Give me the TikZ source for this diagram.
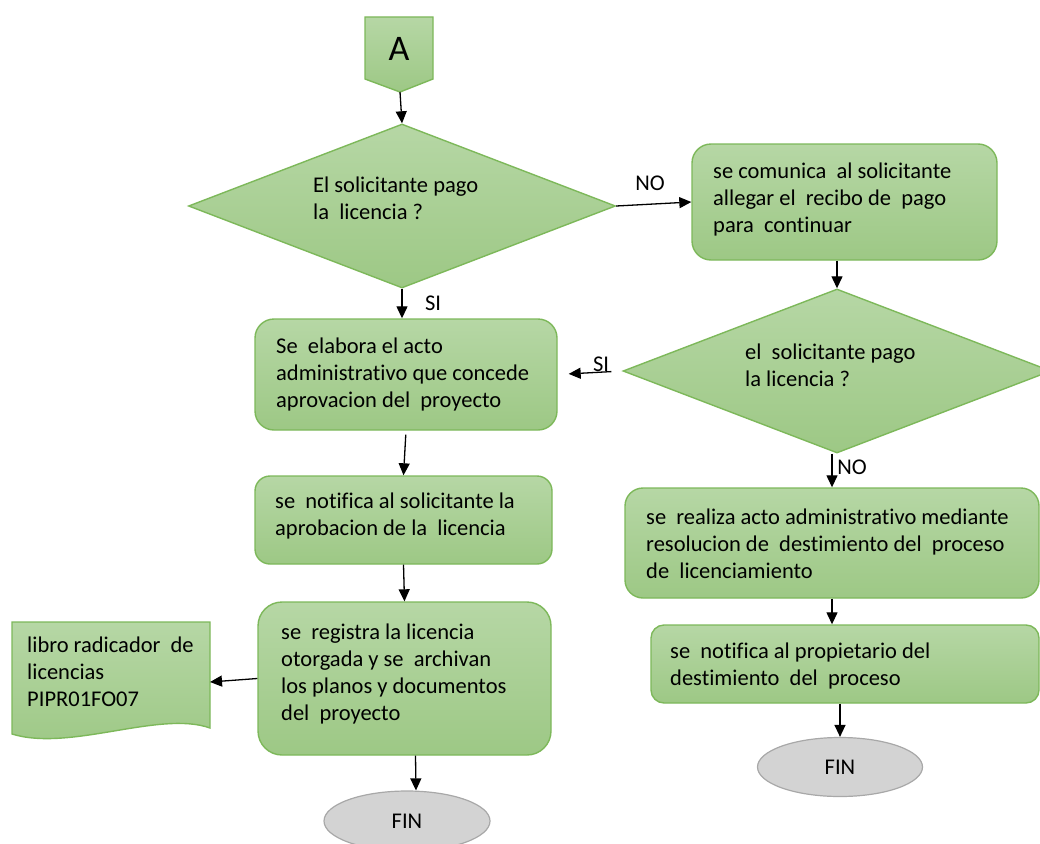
\documentclass[tikz,border=0pt]{standalone}
\usepackage{fontspec}
\setmainfont{Carlito}[Ligatures=NoCommon]
\usetikzlibrary{shapes.geometric,arrows.meta}

\definecolor{gtop}{HTML}{B6D7A5}
\definecolor{gbot}{HTML}{9DC885}
\definecolor{gline}{HTML}{7DB85A}
\definecolor{finfill}{HTML}{D3D3D3}
\definecolor{finline}{HTML}{A8A8A8}

% several lines of left-aligned text whose baseline is that of the first line
\newcommand{\txtlines}[1]{\begin{tabular}[t]{@{}l@{}}#1\end{tabular}}

\begin{document}
\begin{tikzpicture}[x=1pt,y=-1pt,
  font=\fontsize{22.5}{27}\selectfont,
  green/.style={draw=gline, line width=1.4pt, top color=gtop, bottom color=gbot},
  procbox/.style={green, rectangle, inner sep=0pt},
  decision/.style={green, diamond, inner sep=0pt},
  txt/.style={anchor=base west, inner sep=0pt},
  endnode/.style={ellipse, draw=finline, fill=finfill, line width=1.2pt,
                  inner sep=0pt},
  arr/.style={-{Triangle[length=12pt,width=11pt]}, line width=1.3pt, black},
  lbl/.style={inner sep=0pt}
]
\useasboundingbox (0,0) rectangle (1040,843);
\clip (0,0) rectangle (1040,843);

% off-page connector
\path[green] (365,17) -- (433,17) -- (433,79) -- (400,92) -- (365,79) -- cycle;
\node[lbl, font=\fontsize{36}{40}\selectfont] (a) at (399,49) {A};
\coordinate (atip) at (400,92);

% decisions
\node[decision, minimum width=427pt, minimum height=164pt] (d1) at (402,206) {};
\node[txt] (d1t) at (313,192) {\txtlines{El solicitante pago\\la\ \ licencia ?}};

\node[decision, minimum width=428pt, minimum height=164pt] (d2) at (837,371) {};
\node[txt] (d2t) at (745,359) {\txtlines{el\ \ solicitante pago\\la licencia ?}};

% left column
\node[procbox, rounded corners=19pt, minimum width=302pt, minimum height=111pt] (l1) at (406,374.5) {};
\node[txt] (l1t) at (276,353) {\txtlines{Se\ \ elabora el acto\\administrativo que concede\\aprovacion del\ \ proyecto}};

\node[procbox, rounded corners=15pt, minimum width=297pt, minimum height=88pt] (l2) at (403.5,520) {};
\node[txt] (l2t) at (275,508) {\txtlines{se\ \ notifica al solicitante la\\aprobacion de la\ \ licencia}};

\node[procbox, rounded corners=24pt, minimum width=293pt, minimum height=153pt] (l3) at (404.5,678.5) {};
\node[txt] (l3t) at (281,639) {\txtlines{se\ \ registra la licencia\\otorgada y se\ \ archivan\\los planos y documentos\\del\ \ proyecto}};

% document shape
\path[green] (12,622) -- (210,622) -- (210,728)
  .. controls (160,710) and (70,752) .. (12,734) -- cycle;
\node[txt] (doct) at (27,652) {\txtlines{libro radicador\ \ de\\licencias\\PIPR01FO07}};
\coordinate (docin) at (210,682);

\node[endnode, minimum width=166pt, minimum height=60pt] (fin1) at (407,821) {FIN};

% right column
\node[procbox, rounded corners=19pt, minimum width=305pt, minimum height=116pt] (r1) at (844.5,202) {};
\node[txt] (r1t) at (713,178) {\txtlines{se comunica\ \ al solicitante\\allegar el\ \ recibo de\ \ pago\\para\ \ continuar}};

\node[procbox, rounded corners=18pt, minimum width=414pt, minimum height=110pt] (r2) at (832,543) {};
\node[txt] (r2t) at (646,524) {\txtlines{se\ \ realiza acto administrativo mediante\\resolucion de\ \ destimiento del\ \ proceso\\de\ \ licenciamiento}};

\node[procbox, rounded corners=13pt, minimum width=388pt, minimum height=78pt] (r3) at (845,664) {};
\node[txt] (r3t) at (670,658) {\txtlines{se\ \ notifica al propietario del\\destimiento\ \ del\ \ proceso}};

\node[endnode, minimum width=165pt, minimum height=59pt] (fin2) at (840,767) {FIN};

% connectors
\draw[arr] (atip) -- (d1.north);
\draw[arr] (d1.east) -- (r1.west);
\node[lbl] (no1) at (650,183) {NO};
\draw[arr] (d2.north |- r1.south) -- (d2.north);
\draw[arr, shorten <=11pt, shorten >=11pt] (d2.west) -- (l1.east);
\node[lbl] (si2) at (601,364) {SI};
\draw[arr] (d1.south) -- (d1.south |- l1.north);
\node[lbl] (si1) at (433,303) {SI};
\draw[arr, shorten <=4pt] (l1.south) -- (l2.north);
\draw[arr] (l2.south) -- (l3.north);
\draw[arr] (l3.west) -- (docin);
\draw[arr] ([xshift=11pt]l3.south) -- ([xshift=9pt]fin1.north);
\draw[arr] (r2.north |- d2.south) -- (r2.north);
\node[lbl] (no2) at (852,467) {NO};
\draw[arr] (r2.south) -- (r2.south |- r3.north);
\draw[arr] ([xshift=-5pt]r3.south) -- (fin2.north);
\end{tikzpicture}
\end{document}
